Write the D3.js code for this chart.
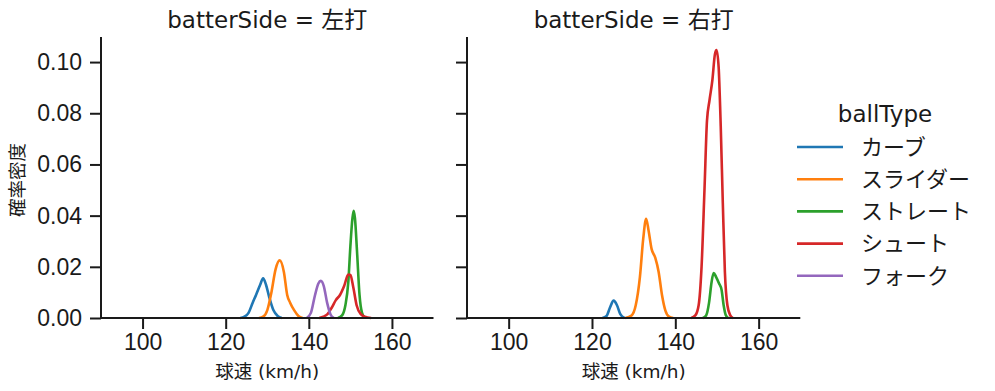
<!DOCTYPE html>
<html>
<head>
<meta charset="utf-8">
<script src="https://cdn.jsdelivr.net/npm/d3@7"></script>
<style>
  body { margin: 0; background: #fff; }
  svg { font-family: "DejaVu Sans", "Noto Sans CJK JP", sans-serif; }
</style>
</head>
<body>
<svg width="995" height="391"></svg>
<script>
// facets and series
var sides = ["左打", "右打"];
var ballTypes = ["カーブ", "スライダー", "ストレート", "シュート", "フォーク"];
var colors = ["#1f77b4", "#ff7f0e", "#2ca02c", "#d62728", "#9467bd"];
var xTicks = [100, 120, 140, 160];
var yTicks = [0, 0.02, 0.04, 0.06, 0.08, 0.10];

// density curves: [speed, density]
var leftCurve = [[123.5,0],[124.5,0.0005],[125.5,0.002],[126.5,0.006],[127.3,0.009],[128.3,0.013],[129,0.0155],[129.7,0.013],[130.5,0.008],[131.5,0.003],[132.5,0.0008],[133.5,0]];
var leftSlider = [[128,0],[129,0.0005],[130,0.003],[131,0.01],[132,0.019],[133,0.0225],[134,0.018],[134.8,0.009],[135.5,0.006],[136.5,0.003],[137.5,0.0008],[138.5,0]];
var leftStraight = [[147,0],[148,0.001],[148.8,0.005],[149.5,0.014],[150,0.028],[150.5,0.039],[150.8,0.0419],[151.1,0.039],[151.6,0.026],[152.2,0.009],[152.8,0.002],[153.5,0]];
var leftShoot = [[142.5,0],[143.5,0.0005],[144.5,0.0015],[145.5,0.004],[146.5,0.007],[147.5,0.009],[148.5,0.0125],[149.5,0.017],[150,0.0168],[150.7,0.012],[151.5,0.005],[152.5,0.0015],[153.5,0.0005],[155,0]];
var leftFork = [[139.5,0],[140.5,0.002],[141.5,0.009],[142.3,0.0135],[142.9,0.0145],[143.6,0.0125],[144.4,0.006],[145.2,0.0015],[146,0]];

var rightCurve = [[122.5,0],[123.5,0.0008],[124.3,0.004],[125.2,0.0068],[126,0.005],[126.8,0.0015],[127.8,0]];
var rightSlider = [[128,0],[129.5,0.001],[130.5,0.005],[131.5,0.016],[132.3,0.031],[133,0.0388],[133.6,0.034],[134.3,0.027],[135.2,0.0235],[136,0.018],[136.8,0.009],[137.6,0.003],[138.5,0.0005],[139.5,0]];
var rightStraight = [[146.6,0],[147.4,0.001],[148.1,0.006],[148.7,0.014],[149.2,0.0176],[149.8,0.016],[150.5,0.0135],[151.1,0.011],[151.6,0.005],[152.1,0.0012],[152.7,0]];
var rightShoot = [[143.8,0],[144.8,0.001],[145.6,0.005],[146.3,0.02],[147,0.05],[147.6,0.077],[148.2,0.085],[148.9,0.093],[149.5,0.103],[149.9,0.1047],[150.4,0.098],[150.9,0.075],[151.4,0.045],[151.9,0.018],[152.5,0.005],[153.2,0.001],[153.8,0]];

var panels = [
    [leftCurve, leftSlider, leftStraight, leftShoot, leftFork],
    [rightCurve, rightSlider, rightStraight, rightShoot, null]
];

draw();

function draw() {
    var svg = d3.select("svg"),
        ink = "#1a1a1a",
        plotTop = 37, plotBottom = 318,
        panelX = [[101, 433.5], [467, 800.3]];

    var y = d3.scaleLinear().domain([0, 0.1098]).range([plotBottom, plotTop]);

    panels.forEach(function(series, p) {
        var x = d3.scaleLinear().domain([90, 170]).range(panelX[p]);
        var g = svg.append("g");

        var line = d3.line()
            .x(function(d) { return x(d[0]); })
            .y(function(d) { return y(d[1]); })
            .curve(d3.curveMonotoneX);

        series.forEach(function(s, i) {
            if (!s) return;
            g.append("path")
                .datum(s)
                .attr("fill", "none")
                .attr("stroke", colors[i])
                .attr("stroke-width", 2.6)
                .attr("stroke-linejoin", "round")
                .attr("d", line);
        });

        // x axis
        var xa = g.append("g")
            .attr("transform", "translate(0," + plotBottom + ")")
            .call(d3.axisBottom(x).tickValues(xTicks).tickSize(11).tickPadding(5));
        xa.select(".domain").attr("stroke", ink).attr("stroke-width", 2).attr("d", "M" + panelX[p][0] + ",0H" + panelX[p][1]);
        xa.selectAll(".tick line").attr("stroke", ink).attr("stroke-width", 2);
        xa.selectAll(".tick text").attr("fill", ink).style("font-size", "23px");

        // y axis
        var ya = g.append("g")
            .attr("transform", "translate(" + panelX[p][0] + ",0)")
            .call(d3.axisLeft(y).tickValues(yTicks).tickSize(11).tickPadding(8).tickFormat(d3.format(".2f")));
        ya.select(".domain").attr("stroke", ink).attr("stroke-width", 2).attr("d", "M0," + plotTop + "V" + plotBottom);
        ya.selectAll(".tick line").attr("stroke", ink).attr("stroke-width", 2);
        ya.selectAll(".tick text").attr("fill", ink).style("font-size", "23px");
        if (p == 1) ya.selectAll(".tick text").remove();

        g.append("text")
            .attr("x", (panelX[p][0] + panelX[p][1]) / 2)
            .attr("y", 28)
            .attr("text-anchor", "middle")
            .attr("fill", ink)
            .style("font-size", "23px")
            .text("batterSide = " + sides[p]);

        g.append("text")
            .attr("x", (panelX[p][0] + panelX[p][1]) / 2)
            .attr("y", 378)
            .attr("text-anchor", "middle")
            .attr("fill", ink)
            .style("font-size", "18.5px")
            .text("球速 (km/h)");
    });

    svg.append("text")
        .attr("transform", "translate(24,180)rotate(-90)")
        .attr("text-anchor", "middle")
        .attr("fill", ink)
        .style("font-size", "18.5px")
        .text("確率密度");

    // legend
    var legend = svg.append("g");
    legend.append("text")
        .attr("x", 885)
        .attr("y", 122)
        .attr("text-anchor", "middle")
        .attr("fill", ink)
        .style("font-size", "23px")
        .text("ballType");

    var item = legend.selectAll("g.item")
        .data(ballTypes)
        .enter().append("g")
        .attr("class", "item")
        .attr("transform", function(d, i) { return "translate(0," + (147 + i * 32.2) + ")"; });

    item.append("line")
        .attr("x1", 797).attr("x2", 843)
        .attr("stroke", function(d, i) { return colors[i]; })
        .attr("stroke-width", 2.6);

    item.append("text")
        .attr("x", 861)
        .attr("dy", "0.35em")
        .attr("fill", ink)
        .style("font-size", "22px")
        .text(function(d) { return d; });
}
</script>
</body>
</html>
